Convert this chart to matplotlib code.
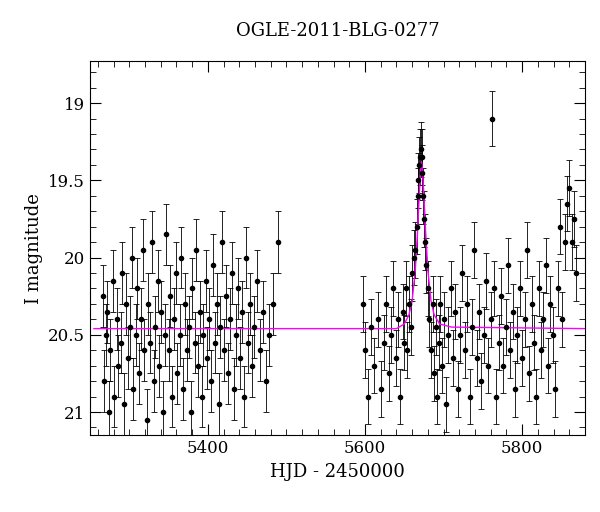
import matplotlib
matplotlib.use("Agg")
import matplotlib.pyplot as plt
from matplotlib.ticker import MultipleLocator, FuncFormatter

# season 1
hjd1 = [5266, 5268, 5270, 5272, 5274, 5276, 5279, 5281, 5284, 5286, 5289, 5291, 5293, 5296, 5298,
        5301, 5303, 5305, 5308, 5310, 5312, 5315, 5317, 5319, 5322, 5324, 5326, 5329, 5331, 5333,
        5336, 5338, 5340, 5343, 5345, 5347, 5350, 5352, 5354, 5357, 5359, 5361, 5364, 5366, 5368,
        5371, 5373, 5376, 5378, 5380, 5383, 5385, 5387, 5390, 5392, 5394, 5397, 5399, 5402, 5404,
        5406, 5409, 5411, 5414, 5416, 5418, 5421, 5423, 5426, 5428, 5431, 5433, 5436, 5438, 5441,
        5443, 5446, 5448, 5451, 5453, 5456, 5459, 5462, 5466, 5470, 5474, 5478, 5483, 5489]
mag1 = [20.25, 20.8, 20.5, 20.35, 21.0, 20.6, 20.15, 20.9, 20.4, 20.7, 20.55, 20.1, 20.95, 20.3, 20.65,
        20.45, 20.0, 20.85, 20.5, 20.2, 20.75, 20.4, 19.95, 20.6, 21.05, 20.3, 20.55, 19.9, 20.8, 20.45,
        20.15, 20.7, 20.35, 21.0, 20.5, 19.85, 20.6, 20.25, 20.9, 20.4, 20.1, 20.75, 20.5, 20.0, 20.85,
        20.3, 20.6, 20.45, 21.0, 20.2, 20.55, 19.95, 20.7, 20.35, 20.9, 20.5, 20.15, 20.65, 20.4, 20.8,
        20.05, 20.55, 20.3, 20.95, 20.45, 19.9, 20.6, 20.25, 20.75, 20.4, 20.1, 20.85, 20.5, 20.2, 20.65,
        20.35, 20.9, 20.0, 20.55, 20.3, 20.7, 20.45, 20.15, 20.6, 20.35, 20.8, 20.5, 20.3, 19.9]
# season 2
hjd2 = [5597, 5600, 5604, 5608, 5612, 5616, 5620, 5624, 5627, 5630, 5633, 5636, 5639, 5642, 5645,
        5648, 5650, 5652, 5654, 5656, 5658, 5660, 5662, 5664, 5666, 5667, 5668, 5669, 5670, 5671,
        5672, 5673, 5674, 5675, 5676, 5678, 5680, 5682, 5684, 5686, 5688, 5690, 5692, 5694, 5696,
        5698, 5700, 5703, 5706, 5709, 5712, 5715, 5718, 5721, 5724, 5727, 5730, 5733, 5736, 5739,
        5742, 5745, 5748, 5751, 5754, 5757, 5760, 5762, 5764, 5767, 5770, 5773, 5776, 5779, 5782,
        5785, 5788, 5791, 5794, 5797, 5800, 5803, 5806, 5809, 5812, 5815, 5818, 5821, 5824, 5827,
        5830, 5833, 5836, 5839, 5842, 5845, 5848, 5851, 5854, 5857, 5860, 5863, 5866, 5869]
mag2 = [20.3, 20.6, 20.9, 20.45, 20.7, 20.4, 20.85, 20.55, 20.3, 20.75, 20.5, 20.2, 20.65, 20.4, 20.9,
        20.35, 20.55, 20.2, 20.6, 20.3, 20.45, 20.1, 20.0, 19.95, 19.8, 19.6, 19.5, 19.4, 19.35, 19.3,
        19.35, 19.45, 19.6, 19.75, 19.9, 20.05, 20.2, 20.4, 20.6, 20.3, 20.75, 20.45, 20.9, 20.55, 20.3,
        20.7, 20.4, 20.95, 20.5, 20.2, 20.65, 20.35, 20.85, 20.5, 20.1, 20.6, 20.3, 20.9, 20.45, 19.95,
        20.65, 20.35, 20.8, 20.5, 20.15, 20.7, 20.4, 19.1, 20.2, 20.9, 20.55, 20.25, 20.7, 20.45, 20.05,
        20.6, 20.35, 20.85, 20.5, 20.2, 20.65, 20.4, 19.95, 20.75, 20.3, 20.55, 20.9, 20.2, 20.6, 20.4,
        20.05, 20.7, 20.3, 20.5, 20.85, 20.2, 19.8, 20.4, 19.9, 19.65, 19.55, 19.9, 19.75, 20.1]
err1 = 0.2
err2 = 0.18

# point-lens model curve
model_hjd = [5255, 5640, 5650, 5656, 5660, 5664, 5667, 5669, 5671, 5672, 5673, 5675, 5677, 5680,
             5684, 5688, 5695, 5710, 5880]
model_mag = [20.46, 20.46, 20.43, 20.37, 20.28, 20.08, 19.82, 19.6, 19.42, 19.38, 19.42, 19.6, 19.82,
             20.08, 20.28, 20.37, 20.43, 20.45, 20.46]

plt.rcParams["font.family"] = "DejaVu Serif"
fig = plt.figure(figsize=(6, 5.12), dpi=100)
ax = fig.add_axes([0.15, 0.15, 0.825, 0.73])

kw = dict(fmt="o", color="black", ms=3, elinewidth=0.6, capsize=2, capthick=0.6)
ax.errorbar(hjd1, mag1, yerr=err1, **kw)
ax.errorbar(hjd2, mag2, yerr=err2, **kw)
ax.plot(model_hjd, model_mag, color="magenta", lw=1)

ax.set_xlim(5250, 5880)
ax.set_ylim(21.15, 18.73)
ax.xaxis.set_major_locator(MultipleLocator(200))
ax.xaxis.set_minor_locator(MultipleLocator(20))
ax.yaxis.set_major_locator(MultipleLocator(0.5))
ax.yaxis.set_minor_locator(MultipleLocator(0.1))
ax.yaxis.set_major_formatter(FuncFormatter(lambda v, p: f"{v:g}"))
ax.tick_params(which="both", direction="in", top=True, right=True, labelsize=12)
ax.tick_params(which="major", length=8)
ax.tick_params(which="minor", length=4)
ax.set_xlabel("HJD - 2450000", fontsize=13)
ax.set_ylabel("I magnitude", fontsize=13)
ax.set_title("OGLE-2011-BLG-0277", fontsize=13, pad=18)

fig.savefig("out.png", dpi=100)
